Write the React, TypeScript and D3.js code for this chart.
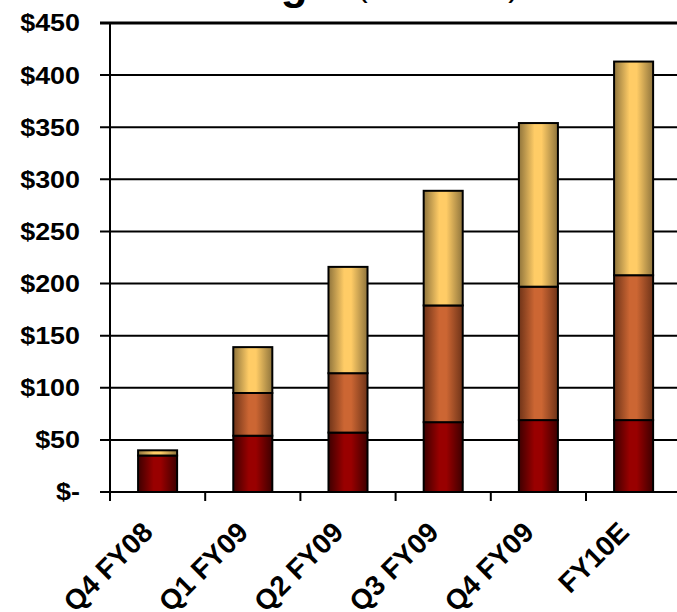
import React from "react";
import * as d3 from "d3";

const categories = ["Q4 FY08", "Q1 FY09", "Q2 FY09", "Q3 FY09", "Q4 FY09", "FY10E"];
const seriesBottom = [35, 54, 57, 67, 69, 69];
const seriesMiddle = [0, 41, 57, 112, 128, 139];
const seriesTop = [5, 44, 102, 110, 157, 205];
const yTicks = [0, 50, 100, 150, 200, 250, 300, 350, 400, 450];

const seriesList = [
  { key: "bottom", values: seriesBottom, base: "#990000", dark: "#3d0000" },
  { key: "middle", values: seriesMiddle, base: "#cc6633", dark: "#6e3318" },
  { key: "top", values: seriesTop, base: "#ffcc66", dark: "#8f743c" },
];

const W = 677;
const H = 612;
const left = 110;
const step = 95.2;
const y0 = 492;
const yTopPx = 23;

export default function App() {
  const x = d3
    .scaleBand<string>()
    .domain(categories)
    .range([left, left + step * categories.length])
    .padding(0);
  const y = d3.scaleLinear().domain([0, 450]).range([y0, yTopPx]);
  const bw = x.bandwidth() * 0.41;

  const stackData = categories.map((c, i) => {
    const o: any = { cat: c };
    seriesList.forEach((s) => (o[s.key] = s.values[i]));
    return o;
  });
  const stacked = d3.stack<any>().keys(seriesList.map((s) => s.key))(stackData);

  const font = "'Liberation Sans', Arial, Helvetica, sans-serif";

  return (
    <svg
      width={W}
      height={H}
      style={{ position: "absolute", left: 0, top: 0, background: "#fff" }}
    >
      <defs>
        {seriesList.map((s) => (
          <linearGradient key={s.key} id={"g-" + s.key} x1="0" x2="1" y1="0" y2="0">
            <stop offset="0%" stopColor={s.dark} />
            <stop offset="40%" stopColor={s.base} />
            <stop offset="58%" stopColor={s.base} />
            <stop offset="100%" stopColor={s.dark} />
          </linearGradient>
        ))}
      </defs>
      <rect x={0} y={0} width={W} height={H} fill="#fff" />

      {/* partially visible title (cut off at the top edge, as in the reference) */}
      <text x={332} y={-1} textAnchor="end" fontFamily={font} fontWeight="bold" fontSize={44} fill="#000">
        Billings
      </text>
      <text x={357} y={-4} fontFamily={font} fontSize={32} fill="#000">
        (in millions)
      </text>

      {/* gridlines */}
      {yTicks.map((t) => (
        <line
          key={"g" + t}
          x1={left - 10}
          x2={W}
          y1={y(t)}
          y2={y(t)}
          stroke="#000"
          strokeWidth={t === 450 ? 3 : 2}
        />
      ))}

      {/* y axis */}
      <line x1={left} x2={left} y1={y(450)} y2={y0 + 9} stroke="#000" strokeWidth={2} />
      {categories.map((c, i) => (
        <line
          key={"xt" + c}
          x1={left + step * (i + 1)}
          x2={left + step * (i + 1)}
          y1={y0}
          y2={y0 + 9}
          stroke="#000"
          strokeWidth={2}
        />
      ))}

      {/* bars */}
      {stacked.map((layer, li) => (
        <g key={layer.key}>
          {layer.map((d, i) => {
            const h = y(d[0]) - y(d[1]);
            if (h <= 0) return null;
            const cx = (x(categories[i]) as number) + x.bandwidth() / 2;
            return (
              <rect
                key={i}
                x={cx - bw / 2}
                y={y(d[1])}
                width={bw}
                height={h}
                fill={`url(#g-${seriesList[li].key})`}
                stroke="#000"
                strokeWidth={2}
              />
            );
          })}
        </g>
      ))}

      {/* y labels */}
      {yTicks.map((t) => (
        <text
          key={"yl" + t}
          transform={`translate(80,${y(t)}) scale(1.12,1)`}
          textAnchor="end"
          dominantBaseline="central"
          fontFamily={font}
          fontWeight="bold"
          fontSize={24}
          fill="#000"
        >
          {t === 0 ? "$-" : "$" + t}
        </text>
      ))}

      {/* x labels */}
      {categories.map((c) => {
        const cx = (x(c) as number) + x.bandwidth() / 2;
        return (
          <text
            key={"xl" + c}
            transform={`translate(${cx - 3},${534}) rotate(-45)`}
            textAnchor="end"
            fontFamily={font}
            fontWeight="bold"
            fontSize={28}
            fill="#000"
          >
            {c}
          </text>
        );
      })}
    </svg>
  );
}
